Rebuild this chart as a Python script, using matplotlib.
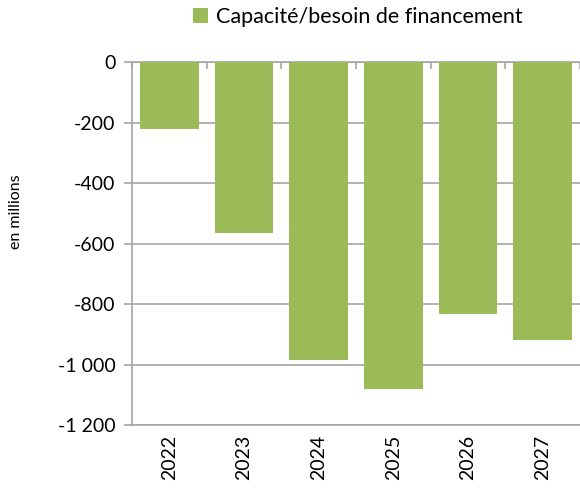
import matplotlib
matplotlib.use("Agg")
from matplotlib import pyplot as plt
import numpy as np

# values (en millions)
years = ['2022', '2023', '2024', '2025', '2026', '2027']
capacite = [-220, -565, -985, -1080, -832, -920]
yticks = [0, -200, -400, -600, -800, -1000, -1200]
ylabels = ['0', '-200', '-400', '-600', '-800', '-1 000', '-1 200']

green = '#9BBB59'
grey = '#A6A6A6'
plt.rcParams['font.family'] = ['Lato', 'DejaVu Sans']

fig = plt.figure(figsize=(5.8, 4.92), dpi=100)
ax = fig.add_axes([0.2276, 0.136, 0.7724, 0.738])

x = np.arange(len(years))
ax.bar(x, capacite, width=0.79, color=green, label='Capacité/besoin de financement', zorder=3)

ax.set_xlim(-0.5, len(years) - 0.5)
ax.set_ylim(-1200, 0)
ax.set_yticks(yticks)
ax.set_yticklabels(ylabels, fontsize=14)
ax.yaxis.grid(True, color=grey, linewidth=1.2, zorder=0)

ax.set_xticks(x)
ax.set_xticklabels(years, rotation=90, fontsize=14)
ax.set_xticks(np.arange(len(years) + 1) - 0.5, minor=True)
ax.tick_params(axis='x', which='major', length=0, pad=7)
ax.tick_params(axis='x', which='minor', top=True, bottom=False, direction='in', length=5, color=grey, width=1.2)
ax.tick_params(axis='y', length=6, color=grey, width=1.2, pad=6)

for s in ['left', 'top', 'bottom']:
    ax.spines[s].set_color(grey)
    ax.spines[s].set_linewidth(1.2)
ax.spines['right'].set_visible(False)

# axis title sits above the middle of the axis in the original
fig.text(0.028, 0.57, 'en millions', rotation=90, fontsize=11.5, ha='center', va='center')

fig.legend(loc='center', bbox_to_anchor=(0.617, 0.965), frameon=False, fontsize=15.5,
           handlelength=0.7, handleheight=0.7, handletextpad=0.35)

fig.savefig('out.png', dpi=100)
